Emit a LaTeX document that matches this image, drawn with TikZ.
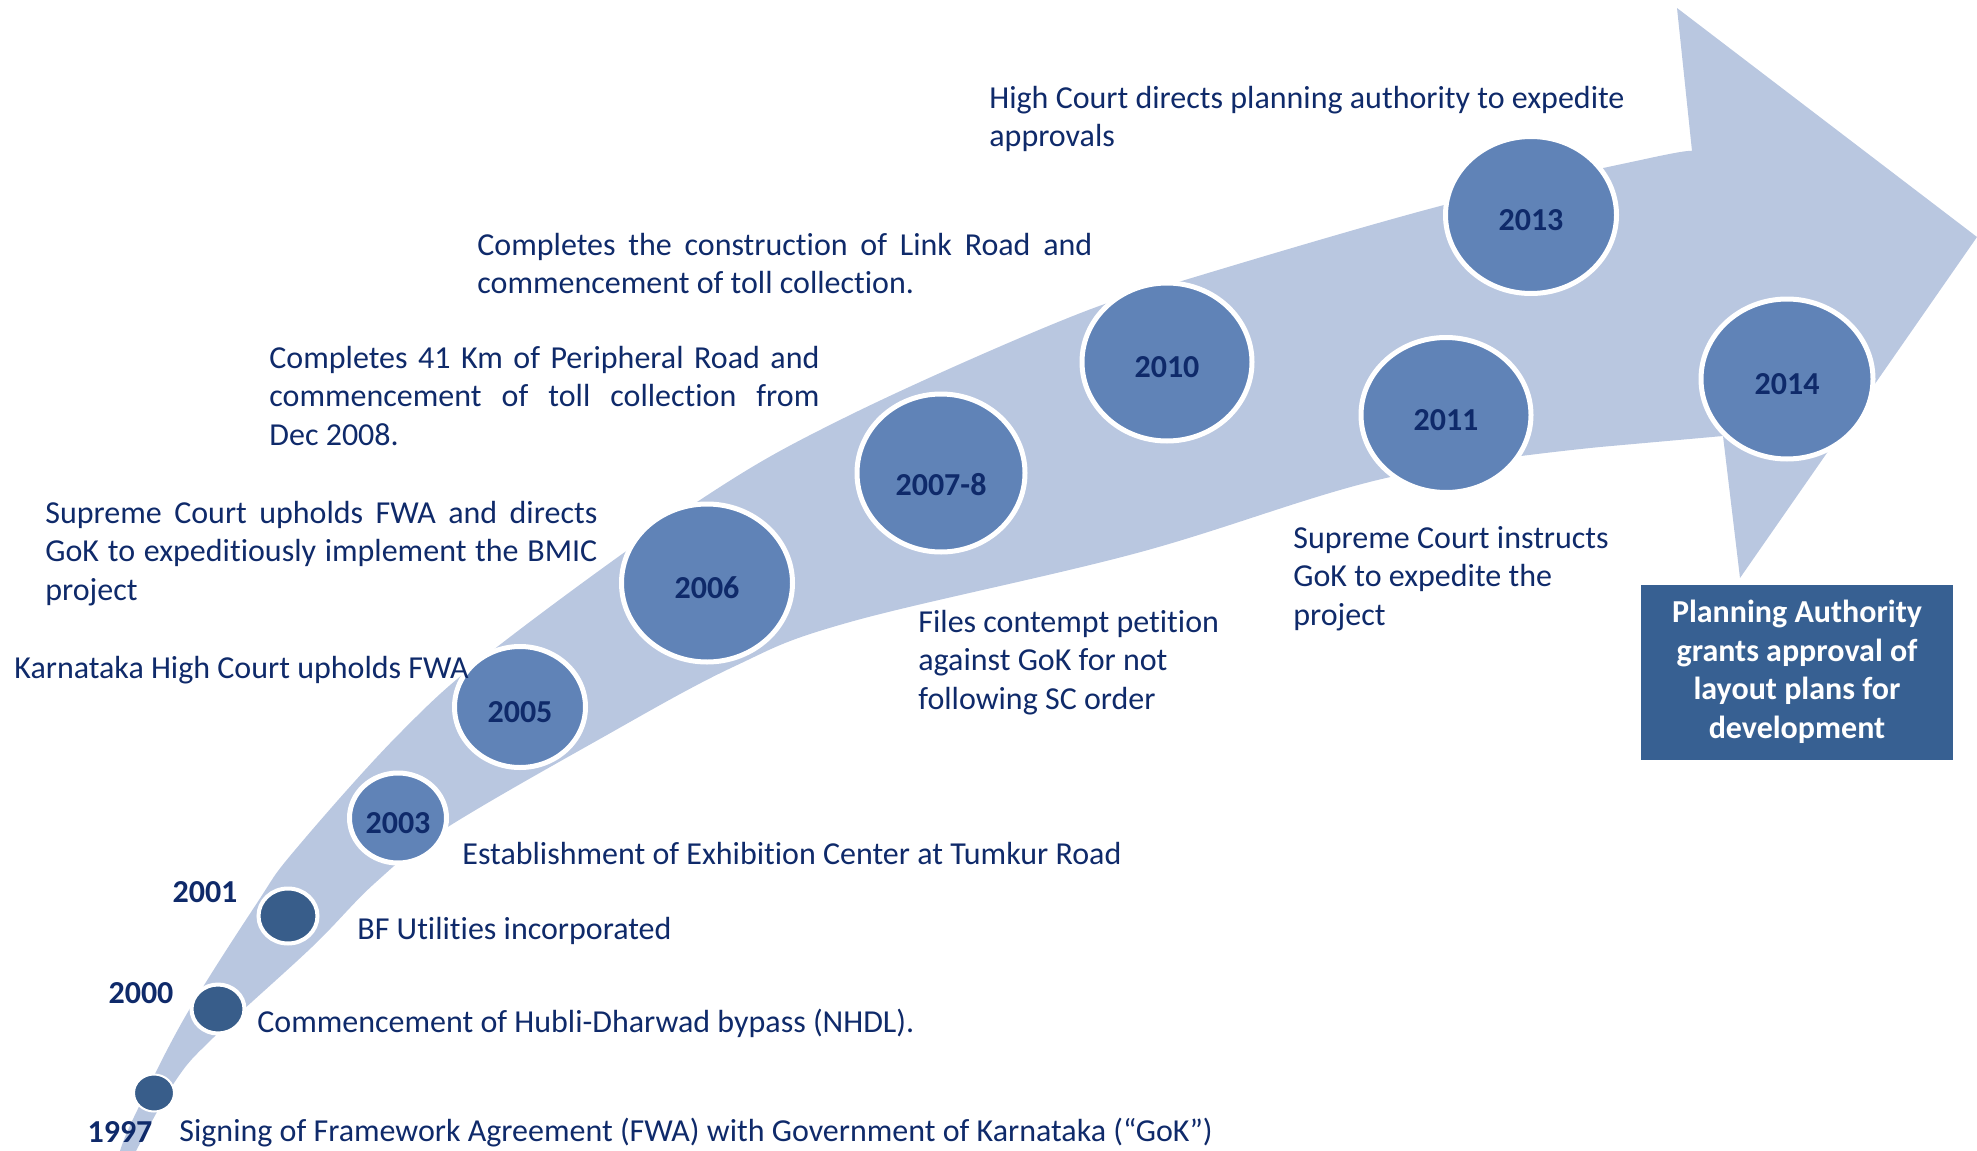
\documentclass[tikz,border=0pt]{standalone}
\usepackage{fontspec}
\setmainfont{Carlito}[Ligatures=NoCommon]
\usetikzlibrary{shapes.geometric}

\definecolor{arrowfill}{HTML}{B9C7E0}
\definecolor{yearfill}{HTML}{6083B7}
\definecolor{dotfill}{HTML}{385D8A}
\definecolor{navy}{HTML}{0F2A6A}
\definecolor{boxfill}{HTML}{376092}

% one justified line
\newcommand{\jl}[2]{\makebox[#1][s]{#2}}

\begin{document}
\begin{tikzpicture}[x=0.5pt,y=-0.5pt,
  yr/.style={ellipse,fill=yearfill,draw=white,line width=2.5pt,inner sep=0pt,text=navy,text height=15pt,text depth=0pt,font=\fontsize{16}{19}\selectfont\bfseries},
  dot/.style={ellipse,fill=dotfill,draw=white,line width=2pt,inner sep=0pt},
  lbl/.style={text=navy,font=\fontsize{16}{19.25}\selectfont,inner sep=0pt,align=left,anchor=base west},
  yl/.style={text=navy,font=\fontsize{16}{19}\selectfont\bfseries,inner sep=0pt,anchor=base}]
\useasboundingbox (0,0) rectangle (1977,1151);

%arrow
\fill[arrowfill] plot[smooth,tension=0.6] coordinates {(120,1151) (134,1117) (185,1017) (257,903) (295,850) (400,733) (497,647) (700,500) (846,417) (1063,320) (1185,280) (1444,205) (1650,158) (1692,151)}
  -- (1677,8) -- (1977,237) -- (1740,578) -- (1723,436)
  -- plot[smooth,tension=0.6] coordinates {(1600,447) (1386,478) (1137,553) (850,622) (733,667) (598,740) (443,830) (375,883) (312,947) (214,1037) (176,1080) (136,1151)}
  -- cycle;

%dots
\node[dot,line width=1pt,minimum width=20pt,minimum height=18.5pt] (d1997) at (154,1093) {};
\node[dot,minimum width=26.5pt,minimum height=24.5pt] (d2000) at (218,1009) {};
\node[dot,minimum width=29.5pt,minimum height=27.5pt] (d2001) at (288,916) {};
\node[yl] (y1997) at (120,1142) {1997};
\node[yl] (y2000) at (141,1003) {2000};
\node[yl] (y2001) at (205,902) {2001};

%circles
\node[yr,minimum width=48.5pt,minimum height=45pt] (c2003) at (398,818) {2003};
\node[yr,minimum width=65.5pt,minimum height=60.5pt] (c2005) at (520,707) {2005};
\node[yr,minimum width=85.5pt,minimum height=79pt] (c2006) at (707,583) {2006};
\node[yr,minimum width=84pt,minimum height=79pt,text height=22pt] (c2007) at (941,473) {2007-8};
\node[yr,minimum width=85pt,minimum height=79pt] (c2010) at (1167,362) {2010};
\node[yr,minimum width=85pt,minimum height=77.5pt] (c2011) at (1446,415) {2011};
\node[yr,minimum width=85.5pt,minimum height=78.5pt] (c2013) at (1531,215) {2013};
\node[yr,minimum width=86pt,minimum height=80pt] (c2014) at (1787,379) {2014};

%texts (base = last line)
\node[lbl] (t1997) at (179,1141) {Signing of Framework Agreement (FWA) with Government of Karnataka (“GoK”)};
\node[lbl] (t2000) at (257,1032) {Commencement of Hubli-Dharwad bypass (NHDL).};
\node[lbl] (t2001) at (357,939) {BF Utilities incorporated};
\node[lbl] (t2003) at (462,864) {Establishment of Exhibition Center at Tumkur Road};
\node[lbl] (t2005) at (14,678) {Karnataka High Court upholds FWA};
\node[lbl] (t2006) at (45,600) {\jl{276pt}{Supreme Court upholds FWA and directs}\\
  \jl{276pt}{GoK to expeditiously implement the BMIC}\\ project};
\node[lbl] (t2007) at (269,445) {\jl{275pt}{Completes 41 Km of Peripheral Road and}\\
  \jl{275pt}{commencement of toll collection from}\\ Dec 2008.};
\node[lbl] (t2010) at (477,293.5) {\jl{307.5pt}{Completes the construction of Link Road and}\\
  commencement of toll collection.};
\node[lbl] (t2013) at (989,146.5) {High Court directs planning authority to expedite\\ approvals};
\node[lbl] (t2009) at (918,709) {Files contempt petition\\ against GoK for not\\ following SC order};
\node[lbl] (t2011) at (1293,625) {Supreme Court instructs\\ GoK to expedite the\\ project};

%box
\node[fill=boxfill,text=white,minimum width=156pt,minimum height=87.5pt,align=center,
  font=\fontsize{16}{19.25}\selectfont\bfseries] (t2014) at (1797,672)
  {Planning Authority\\ grants approval of\\ layout plans for\\ development};
\end{tikzpicture}
\end{document}
